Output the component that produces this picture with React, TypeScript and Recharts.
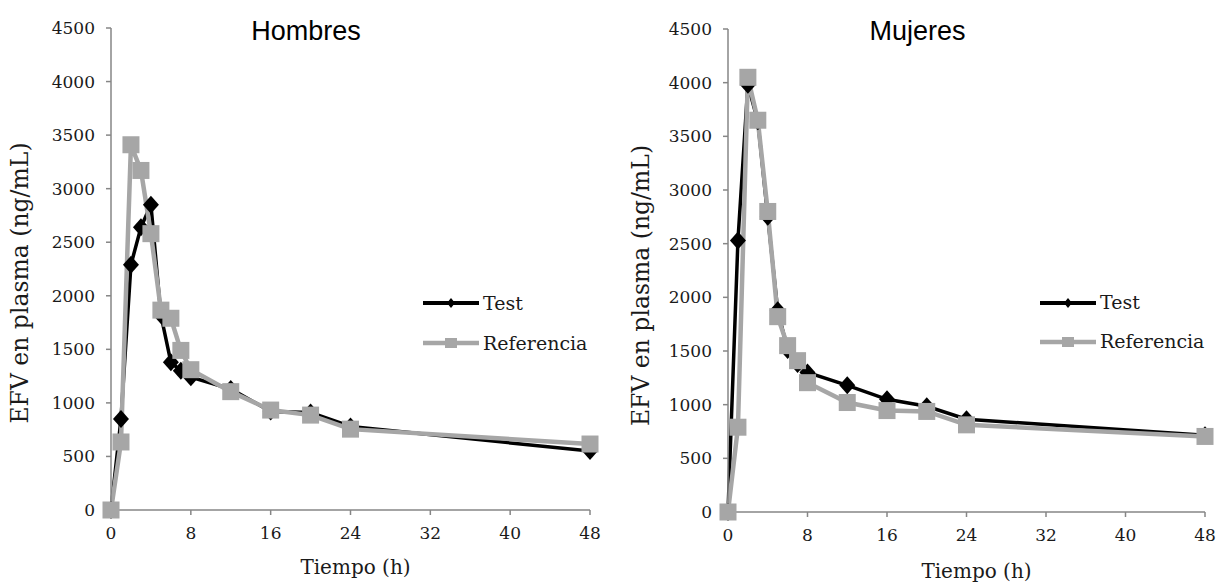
import React from "react";
import { LineChart, Line, XAxis, YAxis, Legend, Label } from "recharts";

const TIMES = [0, 1, 2, 3, 4, 5, 6, 7, 8, 12, 16, 20, 24, 48];
const HOMBRES_TEST = [0, 850, 2290, 2640, 2850, 1820, 1380, 1300, 1240, 1130, 920, 910, 780, 550];
const HOMBRES_REF = [0, 635, 3410, 3170, 2580, 1866, 1790, 1490, 1310, 1105, 933, 886, 755, 616];
const MUJERES_TEST = [0, 2530, 3980, 3640, 2750, 1880, 1510, 1380, 1300, 1180, 1050, 985, 865, 715];
const MUJERES_REF = [0, 790, 4050, 3650, 2800, 1820, 1550, 1410, 1205, 1020, 945, 937, 812, 704];
const X_TICKS = [0, 8, 16, 24, 32, 40, 48];
const Y_TICKS = [0, 500, 1000, 1500, 2000, 2500, 3000, 3500, 4000, 4500];
const SERIES_NAMES = ["Test", "Referencia"];
const TITLES = ["Hombres", "Mujeres"];
const X_LABEL = "Tiempo (h)";
const Y_LABEL = "EFV en plasma (ng/mL)";

const BLACK = "#000000";
const GRAY = "#A6A6A6";
const AXIS = "#868686";
const TEXT = "#1a1a1a";
const SERIF = "'DejaVu Serif', serif";
const SANS = "'Liberation Sans', Arial, sans-serif";

const buildData = (test: number[], ref: number[]) =>
  TIMES.map((t, i) => ({ t, test: test[i], ref: ref[i] }));

const renderDiamond = (props: any) => {
  const { cx, cy, index } = props;
  if (cx == null || cy == null) return <g key={`d${index}`} />;
  return (
    <path
      key={`d${index}`}
      d={`M${cx},${cy - 9} L${cx + 8},${cy} L${cx},${cy + 9} L${cx - 8},${cy} Z`}
      fill={BLACK}
    />
  );
};

const renderSquare = (props: any) => {
  const { cx, cy, index } = props;
  if (cx == null || cy == null) return <g key={`s${index}`} />;
  return <rect key={`s${index}`} x={cx - 8.5} y={cy - 8.5} width={17} height={17} fill={GRAY} />;
};

const LegendBox = ({ rowH }: { rowH: number }) => (
  <div style={{ fontFamily: SERIF, fontSize: 19, color: TEXT }}>
    {SERIES_NAMES.map((name, i) => (
      <div key={name} style={{ display: "flex", alignItems: "center", height: rowH }}>
        <svg width={56} height={20} style={{ display: "block" }}>
          <line x1={0} y1={10} x2={56} y2={10} stroke={i === 0 ? BLACK : GRAY} strokeWidth={i === 0 ? 4 : 4.5} />
          {i === 0 ? (
            <path d="M28,5 L32,10 L28,15 L24,10 Z" fill={BLACK} />
          ) : (
            <rect x={22} y={5} width={12} height={10} fill={GRAY} />
          )}
        </svg>
        <span style={{ marginLeft: 4, lineHeight: 1, whiteSpace: "nowrap" }}>{name}</span>
      </div>
    ))}
  </div>
);

type PanelProps = {
  left: number;
  title: string;
  titleCenter: number;
  test: number[];
  ref: number[];
  yAxisWidth: number;
  top: number;
  xAxisHeight: number;
  rightMargin: number;
  yLabelX: number;
  yLabelDy: number;
  xLabelDx: number;
  xLabelBaseline: number;
  legendLeft: number;
  legendTop: number;
  legendRowH: number;
};

const Panel = (p: PanelProps) => {
  const data = buildData(p.test, p.ref);
  return (
    <div style={{ position: "absolute", left: p.left, top: 0, width: 610, height: 586 }}>
      <LineChart
        width={610}
        height={586}
        data={data}
        margin={{ top: p.top, right: p.rightMargin, bottom: 0, left: 0 }}
      >
        <XAxis
          dataKey="t"
          type="number"
          domain={[0, 48]}
          ticks={X_TICKS}
          height={p.xAxisHeight}
          axisLine={{ stroke: AXIS, strokeWidth: 1.5 }}
          tickLine={{ stroke: AXIS, strokeWidth: 1.5 }}
          tickSize={5}
          tickMargin={12}
          tick={{ fill: TEXT, fontFamily: SERIF, fontSize: 17 }}
          interval={0}
        >
          <Label
            content={(lp: any) => {
              const vb = lp.viewBox || {};
              return (
                <text
                  x={vb.x + vb.width / 2 + p.xLabelDx}
                  y={p.xLabelBaseline}
                  textAnchor="middle"
                  fontFamily={SERIF}
                  fontSize={20}
                  fill={TEXT}
                >
                  {X_LABEL}
                </text>
              );
            }}
          />
        </XAxis>
        <YAxis
          type="number"
          domain={[0, 4500]}
          ticks={Y_TICKS}
          width={p.yAxisWidth}
          axisLine={{ stroke: AXIS, strokeWidth: 1.5 }}
          tickLine={{ stroke: AXIS, strokeWidth: 1.5 }}
          tickSize={5}
          tickMargin={11}
          tick={{ fill: TEXT, fontFamily: SERIF, fontSize: 17 }}
          interval={0}
        >
          <Label
            content={(lp: any) => {
              const vb = lp.viewBox || {};
              const cy = vb.y + vb.height / 2 + p.yLabelDy;
              return (
                <text
                  x={p.yLabelX}
                  y={cy}
                  transform={`rotate(-90, ${p.yLabelX}, ${cy})`}
                  textAnchor="middle"
                  dominantBaseline="central"
                  fontFamily={SERIF}
                  fontSize={23.5}
                  fill={TEXT}
                >
                  {Y_LABEL}
                </text>
              );
            }}
          />
        </YAxis>
        <Legend
          layout="vertical"
          align="center"
          verticalAlign="middle"
          content={() => <LegendBox rowH={p.legendRowH} />}
          wrapperStyle={{ position: "absolute", left: p.legendLeft, top: p.legendTop, width: "auto", height: "auto" }}
        />
        <Line
          dataKey="test"
          name={SERIES_NAMES[0]}
          stroke={BLACK}
          strokeWidth={3.5}
          dot={renderDiamond}
          activeDot={false}
          isAnimationActive={false}
        />
        <Line
          dataKey="ref"
          name={SERIES_NAMES[1]}
          stroke={GRAY}
          strokeWidth={4.5}
          dot={renderSquare}
          activeDot={false}
          isAnimationActive={false}
        />
      </LineChart>
      <div
        style={{
          position: "absolute",
          left: p.titleCenter - 100,
          width: 200,
          top: 18,
          textAlign: "center",
          fontFamily: SANS,
          fontSize: 27,
          lineHeight: "27px",
          color: "#000",
        }}
      >
        {p.title}
      </div>
    </div>
  );
};

export default function App() {
  return (
    <div style={{ position: "absolute", left: 0, top: 0, width: 1220, height: 586, background: "#fff" }}>
      <Panel
        left={0}
        title={TITLES[0]}
        titleCenter={306}
        test={HOMBRES_TEST}
        ref={HOMBRES_REF}
        yAxisWidth={111}
        top={28}
        xAxisHeight={76}
        rightMargin={20}
        yLabelX={20}
        yLabelDy={14}
        xLabelDx={5}
        xLabelBaseline={574}
        legendLeft={423}
        legendTop={283}
        legendRowH={40}
      />
      <Panel
        left={610}
        title={TITLES[1]}
        titleCenter={307.5}
        test={MUJERES_TEST}
        ref={MUJERES_REF}
        yAxisWidth={118}
        top={29}
        xAxisHeight={74}
        rightMargin={15}
        yLabelX={31}
        yLabelDy={15}
        xLabelDx={10}
        xLabelBaseline={578}
        legendLeft={430}
        legendTop={283}
        legendRowH={39}
      />
    </div>
  );
}
